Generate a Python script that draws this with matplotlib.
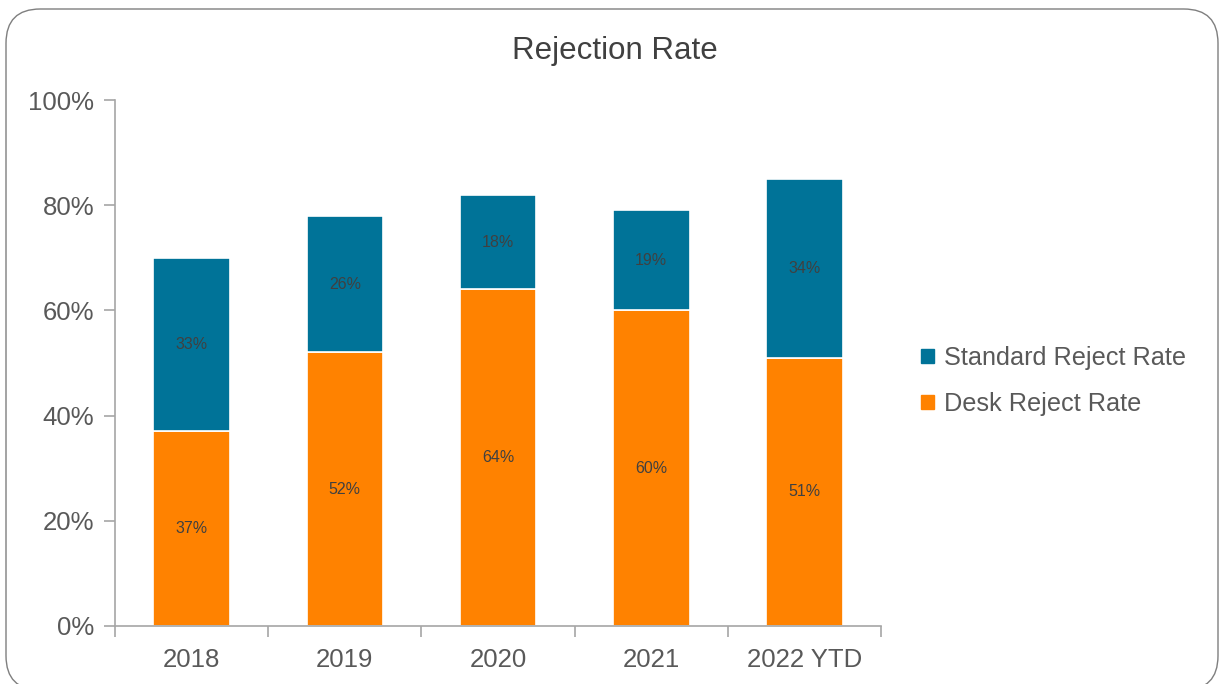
import matplotlib
matplotlib.use("Agg")
import matplotlib.pyplot as plt
from matplotlib.patches import FancyBboxPatch, Patch
from matplotlib.ticker import PercentFormatter
import numpy as np

plt.rcParams["font.family"] = ["Liberation Sans", "DejaVu Sans"]

YEARS = ["2018", "2019", "2020", "2021", "2022 YTD"]
DESK = [37, 52, 64, 60, 51]
STANDARD = [33, 26, 18, 19, 34]

ORANGE, BLUE = "#FF8200", "#007398"
TEXT, AXIS = "#595959", "#A6A6A6"

fig = plt.figure(figsize=(12.22, 6.84), dpi=100)
ax = fig.add_axes([0.0941, 0.0848, 0.6269, 0.769])

# rounded chart border (bottom edge runs just past the image)
fig.patches.append(FancyBboxPatch(
    (6 / 1222, -6 / 684), 1212 / 1222, 681 / 684,
    boxstyle="round,pad=0,rounding_size=0.028", transform=fig.transFigure,
    facecolor="none", edgecolor="#7F7F7F", lw=1.0, mutation_aspect=1222 / 684))

x = np.arange(len(YEARS))
b1 = ax.bar(x, DESK, width=0.5, color=ORANGE, edgecolor="white", lw=1.2)
b2 = ax.bar(x, STANDARD, width=0.5, bottom=DESK, color=BLUE,
            edgecolor="white", lw=1.2)
for bars in (b1, b2):
    ax.bar_label(bars, labels=[f"{v}%" for v in bars.datavalues],
                 label_type="center", fontsize=11.5, color="#404040")

ax.set_xlim(-0.5, len(YEARS) - 0.5)
ax.set_ylim(0, 100)
ax.set_yticks(range(0, 101, 20))
ax.yaxis.set_major_formatter(PercentFormatter(decimals=0))
ax.set_xticks(x)
ax.set_xticklabels(YEARS)
ax.set_xticks(np.arange(-0.5, len(YEARS)), minor=True)
ax.tick_params(axis="x", which="major", length=0, pad=16, labelsize=18.5,
               labelcolor=TEXT)
ax.tick_params(axis="x", which="minor", length=8, color=AXIS, width=1.2)
ax.tick_params(axis="y", length=8, color=AXIS, width=1.2, labelsize=18.5,
               labelcolor=TEXT, pad=7)
for s in ("top", "right"):
    ax.spines[s].set_visible(False)
for s in ("left", "bottom"):
    ax.spines[s].set_color(AXIS)
    ax.spines[s].set_linewidth(1.2)

fig.text(0.503, 0.926, "Rejection Rate", ha="center", va="center",
         fontsize=22.5, color="#404040")

handles = [Patch(color=BLUE), Patch(color=ORANGE)]
fig.legend(handles, ["Standard Reject Rate", "Desk Reject Rate"],
           loc="center left", bbox_to_anchor=(0.735, 0.443), frameon=False,
           fontsize=18.2, labelcolor=TEXT, handlelength=0.5, handleheight=0.5,
           handletextpad=0.4, labelspacing=0.85)

fig.savefig("out.png", dpi=100)
